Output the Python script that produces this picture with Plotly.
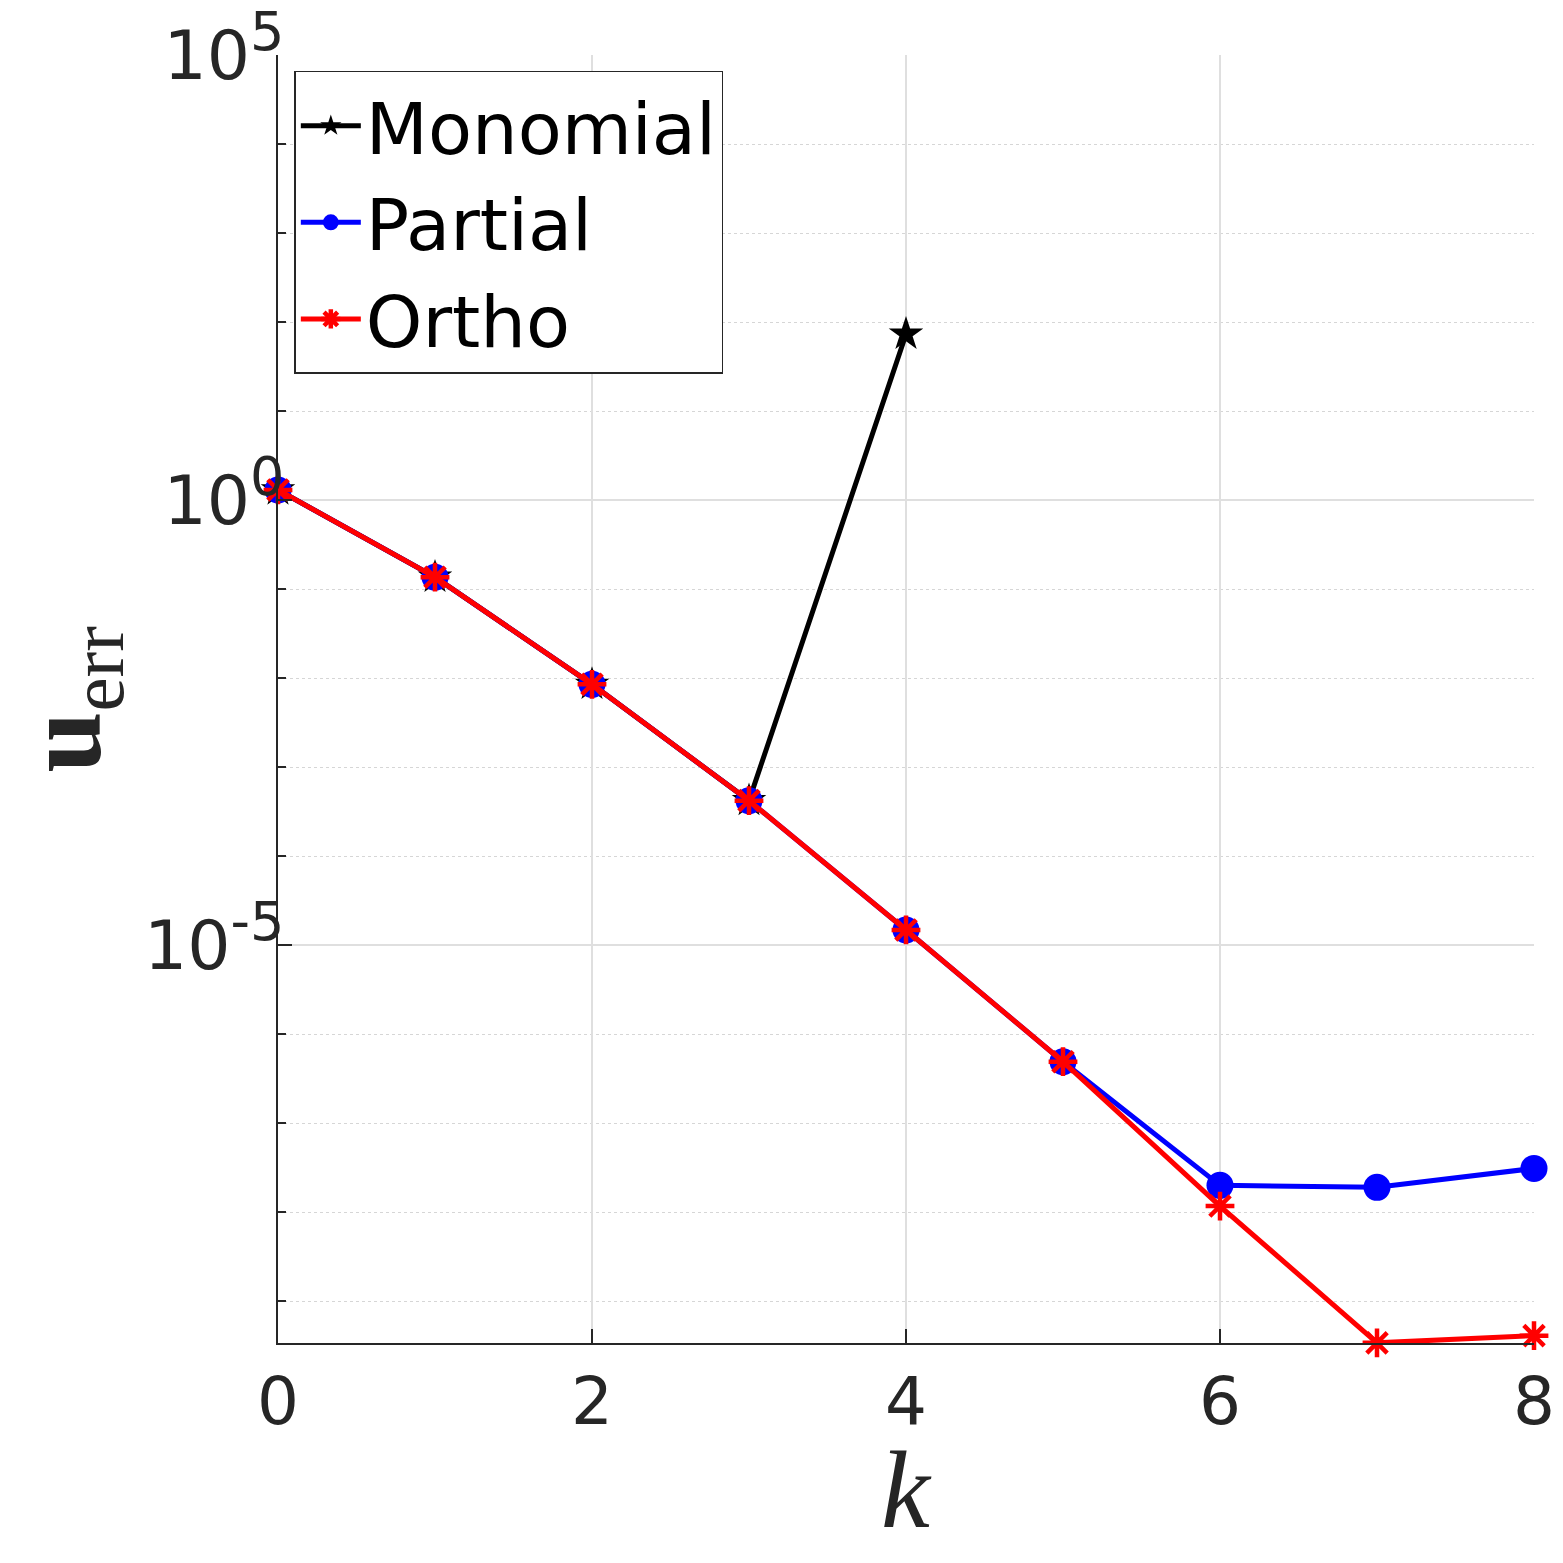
import plotly.graph_objects as go

k = [0, 1, 2, 3, 4, 5, 6, 7, 8]
k_mono = [0, 1, 2, 3, 4]
monomial = [1.3, 0.136, 8.5e-3, 4.2e-4, 73.0]
partial = [1.3, 0.136, 8.5e-3, 4.2e-4, 1.48e-5, 4.9e-7, 2.0e-8, 1.9e-8, 3.1e-8]
ortho = [1.3, 0.136, 8.5e-3, 4.2e-4, 1.48e-5, 4.9e-7, 1.17e-8, 3.4e-10, 4.1e-10]

y_tickvals = [1e-5, 1, 1e5]
y_ticktext = ["10<sup><span style='font-size:54px'>-5</span></sup>",
              "10<sup><span style='font-size:54px'>0</span></sup>",
              "10<sup><span style='font-size:54px'>5</span></sup>"]
y_minorvals = [1e-9, 1e-8, 1e-7, 1e-6, 1e-4, 1e-3, 1e-2, 1e-1, 1e1, 1e2, 1e3, 1e4]
x_tickvals = [0, 2, 4, 6, 8]

fig = go.Figure()
fig.add_trace(go.Scatter(
    x=k_mono, y=monomial, name="Monomial", mode="lines+markers",
    line=dict(color="black", width=5),
    marker=dict(symbol="star", size=26, color="black"),
    cliponaxis=False))
fig.add_trace(go.Scatter(
    x=k, y=partial, name="Partial", mode="lines+markers",
    line=dict(color="#0000ff", width=5),
    marker=dict(symbol="circle", size=27, color="#0000ff"),
    cliponaxis=False))
fig.add_trace(go.Scatter(
    x=k, y=ortho, name="Ortho", mode="lines+markers",
    line=dict(color="#ff0000", width=5),
    marker=dict(symbol="asterisk-open", size=24, color="#ff0000",
                line=dict(color="#ff0000", width=4.5)),
    cliponaxis=False))

fig.update_layout(
    width=1563, height=1563,
    paper_bgcolor="white", plot_bgcolor="white",
    margin=dict(l=270, r=37, t=47, b=228),
    font=dict(family="DejaVu Sans", color="#262626"),
    showlegend=True,
    legend=dict(
        x=0.013, y=0.9876, xanchor="left", yanchor="top",
        bordercolor="#262626", borderwidth=1.5, bgcolor="white",
        font=dict(family="DejaVu Sans", size=72, color="black"),
        itemwidth=60, tracegroupgap=0,
    ),
    xaxis=dict(
        range=[0, 8], tickmode="array", tickvals=x_tickvals,
        showgrid=True, gridcolor="#dfdfdf", gridwidth=1.5,
        showline=True, linecolor="#262626", linewidth=2,
        ticks="inside", ticklen=14, tickcolor="#262626", tickwidth=1.5,
        tickfont=dict(size=66, family="DejaVu Sans", color="#262626"),
        zeroline=False, ticklabeloverflow="allow", automargin=False,
    ),
    yaxis=dict(
        type="log", range=[-9.47, 5],
        tickmode="array", tickvals=y_tickvals, ticktext=y_ticktext,
        showgrid=True, gridcolor="#dfdfdf", gridwidth=1.5,
        showline=True, linecolor="#262626", linewidth=2,
        ticks="inside", ticklen=14, tickcolor="#262626", tickwidth=1.5,
        tickfont=dict(size=68, family="DejaVu Sans", color="#262626"),
        zeroline=False, ticklabeloverflow="allow", automargin=False,
        ticklabelstandoff=-22,
        minor=dict(tickmode="array", tickvals=y_minorvals, showgrid=True,
                   gridcolor="#d6d6d6", griddash="dot", gridwidth=1,
                   ticks="inside", ticklen=8, tickcolor="#262626"),
    ),
    annotations=[
        dict(text="<i>k</i>", xref="paper", yref="paper", x=0.5, y=-0.114,
             xanchor="center", yanchor="middle", showarrow=False,
             font=dict(family="Liberation Serif", size=110, color="#262626")),
        dict(text="<b>u</b><sub>err</sub>", xref="paper", yref="paper", x=-0.165, y=0.5,
             xanchor="center", yanchor="middle", showarrow=False, textangle=-90,
             font=dict(family="Liberation Serif", size=110, color="#262626")),
    ],
)

fig.write_html("out.html")
